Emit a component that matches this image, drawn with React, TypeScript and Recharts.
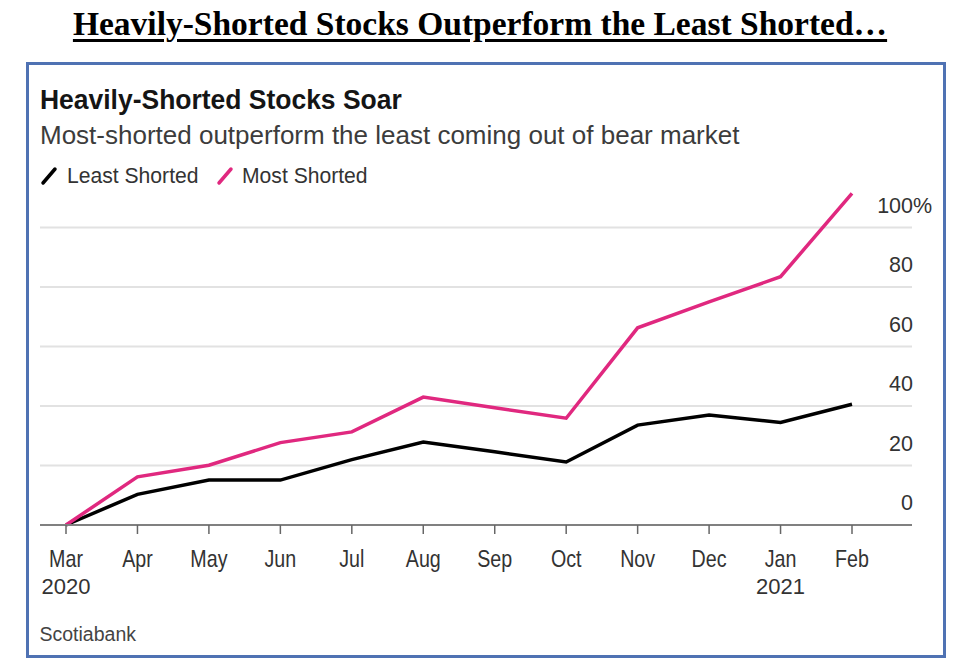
import React from 'react';
import { LineChart, Line, XAxis, YAxis, ReferenceLine } from 'recharts';

const months = ['Mar', 'Apr', 'May', 'Jun', 'Jul', 'Aug', 'Sep', 'Oct', 'Nov', 'Dec', 'Jan', 'Feb'];
const years = ['2020', '', '', '', '', '', '', '', '', '', '2021', ''];
const leastShorted = [0, 10.3, 15.1, 15.1, 22, 27.9, 24.6, 21.2, 33.6, 37, 34.5, 40.6];
const mostShorted = [0, 16.2, 20.1, 27.7, 31.3, 43, 39.4, 35.9, 66.3, 75, 83.5, 111.5];
const yTicks = [0, 20, 40, 60, 80, 100];

const data = months.map((m, i) => ({
  month: m,
  year: years[i],
  least: leastShorted[i],
  most: mostShorted[i],
}));

const FONT = '"Liberation Sans", Arial, Helvetica, sans-serif';
const PINK = '#e0287f';

const XTick = (props: any) => {
  const { x, y, payload, index } = props;
  const yr = years[index] ?? data.find((d) => d.month === payload.value)?.year ?? '';
  return (
    <g>
      <text
        transform={`translate(${x},${y + 32.5}) scale(0.82,1)`}
        textAnchor="middle"
        fontFamily={FONT}
        fontSize={24}
        fill="#333"
      >
        {payload.value}
      </text>
      {yr ? (
        <text x={x} y={y + 60} textAnchor="middle" fontFamily={FONT} fontSize={22} fill="#333">
          {yr}
        </text>
      ) : null}
    </g>
  );
};

const YTick = (props: any) => {
  const { x, y, payload } = props;
  return (
    <g>
      <text x={x + 1} y={y - 15} textAnchor="end" fontFamily={FONT} fontSize={21.5} fill="#333">
        {payload.value}
      </text>
      {payload.value === 100 ? (
        <text x={x + 1} y={y - 15} textAnchor="start" fontFamily={FONT} fontSize={21.5} fill="#333">
          %
        </text>
      ) : null}
    </g>
  );
};

const abs = (style: React.CSSProperties): React.CSSProperties => ({ position: 'absolute', ...style });

export default function App() {
  return (
    <div style={abs({ left: 0, top: 0, width: 955, height: 663, background: '#fff', overflow: 'hidden' })}>
      <div
        style={abs({
          left: 0,
          top: 7,
          width: 960,
          textAlign: 'center',
          fontFamily: '"Liberation Serif", "Times New Roman", serif',
          fontWeight: 'bold',
          fontSize: 33.5,
          lineHeight: '33.5px',
          color: '#000',
          textDecoration: 'underline',
          textDecorationThickness: 3,
          textUnderlineOffset: 4,
          whiteSpace: 'nowrap',
        })}
      >
        Heavily-Shorted Stocks Outperform the Least Shorted…
      </div>
      <div
        style={abs({
          left: 26,
          top: 62,
          width: 920,
          height: 596,
          border: '3px solid #4f72b3',
          boxSizing: 'border-box',
        })}
      />
      <div
        style={abs({
          left: 40,
          top: 86,
          fontFamily: FONT,
          fontWeight: 'bold',
          fontSize: 28,
          lineHeight: '28px',
          color: '#151515',
          whiteSpace: 'nowrap',
          transform: 'scaleX(0.945)',
          transformOrigin: 'left top',
        })}
      >
        Heavily-Shorted Stocks Soar
      </div>
      <div
        style={abs({
          left: 40,
          top: 121.5,
          fontFamily: FONT,
          fontSize: 26,
          lineHeight: '26px',
          color: '#3c3c3c',
          whiteSpace: 'nowrap',
        })}
      >
        Most-shorted outperform the least coming out of bear market
      </div>
      <svg style={abs({ left: 0, top: 0 })} width={955} height={663}>
        <line x1={43} y1={183} x2={55} y2={169} stroke="#000" strokeWidth={3.5} strokeLinecap="round" />
        <line x1={219} y1={183} x2={231} y2={169} stroke={PINK} strokeWidth={3.5} strokeLinecap="round" />
      </svg>
      <div
        style={abs({
          left: 67,
          top: 164.5,
          fontFamily: FONT,
          fontSize: 22,
          lineHeight: '22px',
          color: '#333',
          whiteSpace: 'nowrap',
          transform: 'scaleX(0.96)',
          transformOrigin: 'left top',
        })}
      >
        Least Shorted
      </div>
      <div
        style={abs({
          left: 242,
          top: 164.5,
          fontFamily: FONT,
          fontSize: 22,
          lineHeight: '22px',
          color: '#333',
          whiteSpace: 'nowrap',
          transform: 'scaleX(0.96)',
          transformOrigin: 'left top',
        })}
      >
        Most Shorted
      </div>
      <div
        style={abs({
          left: 39.5,
          top: 625,
          fontFamily: FONT,
          fontSize: 19.5,
          lineHeight: '19.5px',
          color: '#444',
          whiteSpace: 'nowrap',
        })}
      >
        Scotiabank
      </div>
      <div style={abs({ left: 0, top: 0 })}>
        <LineChart
          width={955}
          height={663}
          data={data}
          margin={{ top: 183, right: 0, bottom: 108, left: 40 }}
        >
          {yTicks.map((t) => (
            <ReferenceLine key={t} y={t} stroke="#e2e2e2" strokeWidth={2} />
          ))}
          <XAxis
            dataKey="month"
            interval={0}
            padding={{ left: 26, right: 60 }}
            axisLine={{ stroke: '#808080', strokeWidth: 2 }}
            tickLine={{ stroke: '#666', strokeWidth: 1.5 }}
            tickSize={9}
            tickMargin={0}
            height={30}
            tick={<XTick />}
          />
          <YAxis
            orientation="right"
            width={43}
            domain={[0, 115]}
            ticks={yTicks}
            axisLine={false}
            tickLine={false}
            tickSize={0}
            tickMargin={0}
            tick={<YTick />}
          />
          <Line
            type="linear"
            dataKey="least"
            stroke="#000"
            strokeWidth={3.5}
            dot={false}
            isAnimationActive={false}
          />
          <Line
            type="linear"
            dataKey="most"
            stroke={PINK}
            strokeWidth={3.5}
            dot={false}
            isAnimationActive={false}
          />
        </LineChart>
      </div>
    </div>
  );
}
